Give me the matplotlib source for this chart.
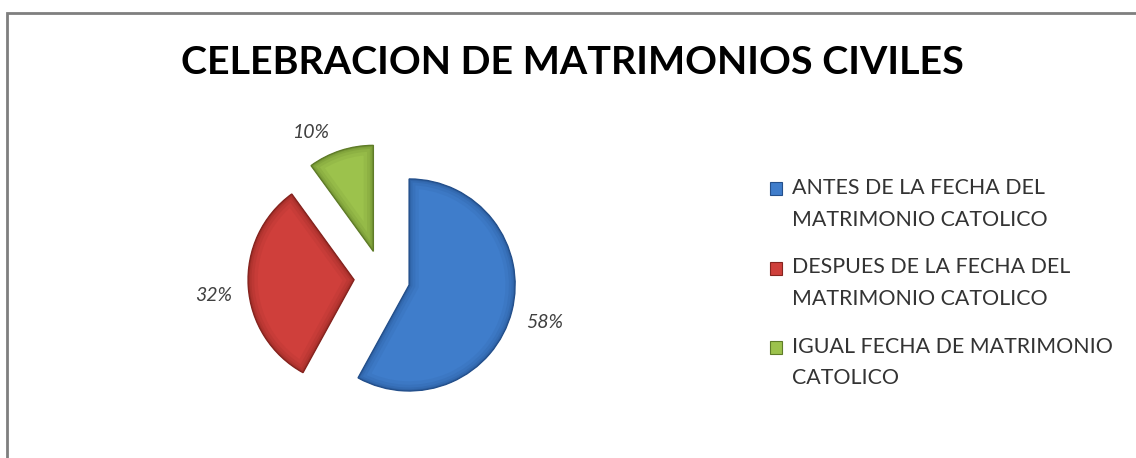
import matplotlib
matplotlib.use('Agg')
import matplotlib.pyplot as plt
from matplotlib.patches import Rectangle, Patch, Wedge
from matplotlib.legend_handler import HandlerPatch
import numpy as np

# Chart data
categories = ['ANTES DE LA FECHA DEL\nMATRIMONIO CATOLICO',
              'DESPUES DE LA FECHA DEL\nMATRIMONIO CATOLICO',
              'IGUAL FECHA DE MATRIMONIO\nCATOLICO']
values = [58, 32, 10]
colors = ['#3F7DCB', '#CF3F3B', '#9CC24C']
edge_colors = ['#24508C', '#86241F', '#5F7C28']
title = 'CELEBRACION DE MATRIMONIOS CIVILES'

# label placement around each slice (angle nudge in deg, distance in radii),
# mimicking Excel's "best fit"
label_nudge = [-1, 3, 10]
label_dist = [1.33, 1.33, 1.27]

W, H = 1136, 458
fig = plt.figure(figsize=(W / 100, H / 100), dpi=100)
fig.patch.set_facecolor('white')

# outer chart frame (only top and left edges visible)
fig.add_artist(Rectangle((7 / W, -0.2), 2.0, (H - 13) / H + 0.2,
                         transform=fig.transFigure, fill=False,
                         edgecolor='#7F7F7F', linewidth=2))

# pie axes: 400x400 px box centred on the pie centre
cx, cy = 382, 278
ax = fig.add_axes([(cx - 200) / W, (H - cy - 200) / H, 400 / W, 400 / H])

wedges, texts, autotexts = ax.pie(
    values, colors=colors, radius=1.06, explode=[0.28] * 3,
    startangle=90, counterclock=False,
    autopct='%1.0f%%', pctdistance=1.33,
    wedgeprops=dict(linewidth=1.0),
    textprops=dict(fontsize=14, style='italic', color='#404040', family='Lato'))

for w, ec, t, nd, dist in zip(wedges, edge_colors, autotexts, label_nudge, label_dist):
    w.set_edgecolor(ec)
    # soft bevel: darker rim strokes clipped to the inside of the wedge
    for lw, a in [(14, 0.10), (9, 0.14), (5, 0.20), (2.5, 0.30)]:
        rim = Wedge(w.center, w.r, w.theta1, w.theta2, fill=False,
                    edgecolor=ec, linewidth=lw, alpha=a)
        ax.add_patch(rim)
        rim.set_clip_path(w)
    # re-place the label around the exploded slice
    ang = np.deg2rad((w.theta1 + w.theta2) / 2 + nd)
    t.set_position((w.center[0] + dist * w.r * np.cos(ang),
                    w.center[1] + dist * w.r * np.sin(ang)))

# pie() resets the limits, so set them afterwards (1 unit = 100 px)
ax.set_xlim(-2, 2)
ax.set_ylim(-2, 2)
ax.set_aspect('equal')
ax.axis('off')

fig.text(572 / W, 1 - 62 / H, title, ha='center', va='center',
         fontsize=28.4, fontweight='bold', family='Lato', color='black')


def top_square(legend, orig_handle, xdescent, ydescent, width, height, fontsize):
    # put the square beside the first line of a two-line label
    return Rectangle((-xdescent, -ydescent + 0.72 * fontsize), width, height)


handles = [Patch(facecolor=c, edgecolor=ec, linewidth=0.8)
           for c, ec in zip(colors, edge_colors)]
leg = fig.legend(handles, categories, loc='upper left',
                 bbox_to_anchor=(770 / W, 1 - 178 / H),
                 frameon=False, prop=dict(family='Lato', size=15.4),
                 handlelength=0.56, handleheight=0.56, handletextpad=0.47,
                 labelspacing=1.3, borderaxespad=0, borderpad=0,
                 handler_map={Patch: HandlerPatch(patch_func=top_square)})
for t in leg.get_texts():
    t.set_color('#333333')
    t.set_linespacing(1.72)

fig.savefig('out.png', dpi=100, facecolor='white')
